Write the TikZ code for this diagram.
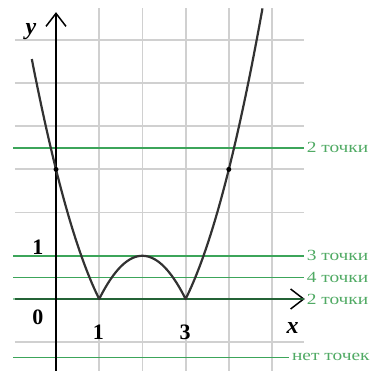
\documentclass[tikz,border=0pt]{standalone}
\usepackage{fontspec}
\setmainfont{Liberation Serif}
\usetikzlibrary{arrows.meta}
\definecolor{gridgray}{RGB}{208,208,208}
\definecolor{lvl}{RGB}{60,165,90}
\definecolor{lvltext}{RGB}{80,170,100}
\definecolor{curve}{RGB}{50,50,50}
\tikzset{
  gridline/.style={draw=gridgray, line width=1.8pt},
  axisline/.style={draw=black, line width=1.5pt, -{Straight Barb[length=13pt,width=20pt,line width=1.5pt]}},
  level/.style={draw=lvl, line width=1.6pt},
  lvllabel/.style={text=lvltext, anchor=west, inner sep=0pt, transform shape, xscale=1.25, font=\fontsize{15.5}{15.5}\selectfont},
  numlabel/.style={inner sep=0pt, font=\fontsize{22}{22}\selectfont\bfseries},
  axlabel/.style={inner sep=0pt, font=\fontsize{24}{24}\selectfont\bfseries\itshape},
  graph/.style={draw=curve, line width=2.2pt, line join=round},
  dot/.style={circle, fill=black, inner sep=0pt, minimum size=5pt}
}
\begin{document}
\begin{tikzpicture}[x=43.2pt,y=43.2pt]
\useasboundingbox (-56pt,-72pt) rectangle (315pt,299pt);
% grid
\foreach \yy in {-1,1,2,3,4,5,6} \draw[gridline] (-0.95,\yy) -- (5.74,\yy);
\foreach \xx in {1,2,3,4,5} \draw[gridline] (\xx,-1.7) -- (\xx,6.74);
% level lines
\coordinate (a1) at (-0.99,3.5);  \coordinate (b1) at (5.74,3.5);
\coordinate (a2) at (-0.99,1);    \coordinate (b2) at (5.74,1);
\coordinate (a3) at (-0.99,0.5);  \coordinate (b3) at (5.74,0.5);
\coordinate (a4) at (-0.99,0);    \coordinate (b4) at (5.74,0);
\coordinate (a5) at (-0.99,-1.35);\coordinate (b5) at (5.40,-1.35);
\draw[level] (a1) -- (b1);
\draw[level] (a2) -- (b2);
\draw[level] (a3) -- (b3);
\draw[level] (a5) -- (b5);
% axes
\coordinate (xs) at (-0.95,0); \coordinate (xe) at (5.76,0);
\coordinate (ys) at (0,-1.7);  \coordinate (ye) at (0,6.64);
\draw[axisline] (xs) -- (xe);
\draw[level, draw opacity=0.6] (a4) -- (b4);
\draw[axisline] (ys) -- (ye);
% graph
\draw[graph] plot[domain=-0.56:1, samples=60] (\x,{(\x-1)*(\x-3)})
  -- plot[domain=1:3, samples=60] (\x,{-(\x-1)*(\x-3)})
  -- plot[domain=3:4.78, samples=60] (\x,{(\x-1)*(\x-3)});
\node[dot] (p0) at (0,3) {};
\node[dot] (p4) at (4,3) {};
% labels
\node[axlabel] (ylab) at (-0.58,6.19) {y};
\node[axlabel] (xlab) at (5.48,-0.68) {x};
\node[numlabel] (one) at (-0.42,1.2) {1};
\node[numlabel] (zero) at (-0.42,-0.42) {0};
\node[numlabel] (xone) at (0.98,-0.76) {1};
\node[numlabel] (xthree) at (2.99,-0.76) {3};
\node[lvllabel] (t1) at (5.80,3.5) {2 точки};
\node[lvllabel] (t2) at (5.80,1) {3 точки};
\node[lvllabel] (t3) at (5.80,0.5) {4 точки};
\node[lvllabel] (t4) at (5.80,0) {2 точки};
\node[lvllabel] (t5) at (5.46,-1.35) {нет точек};
\end{tikzpicture}
\end{document}
